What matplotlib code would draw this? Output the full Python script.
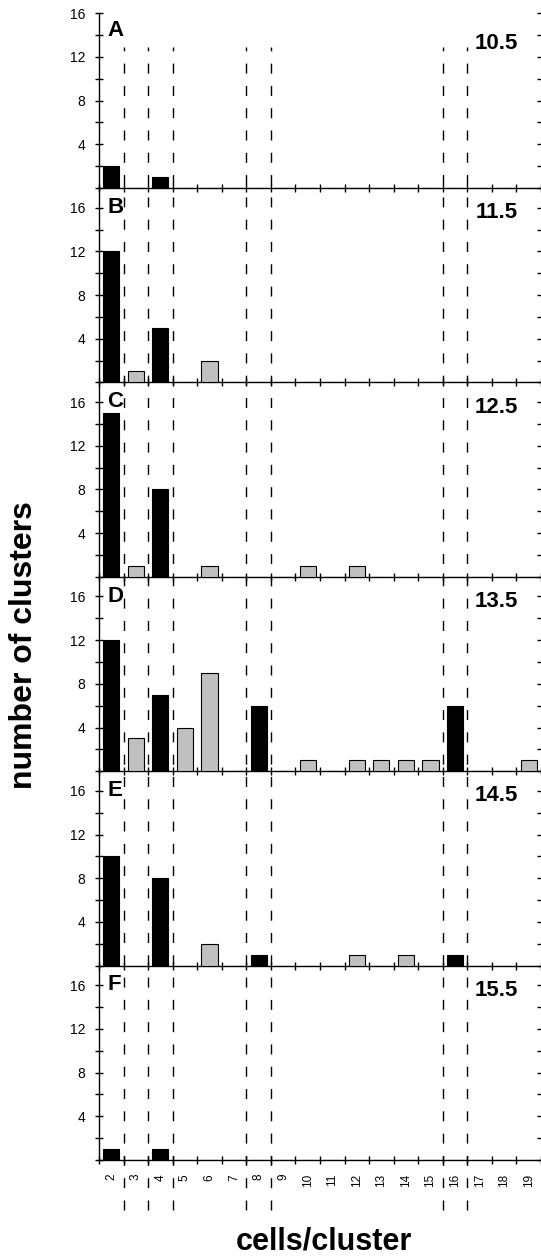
import matplotlib
matplotlib.use('Agg')
import matplotlib.pyplot as plt
import matplotlib.transforms as mtransforms
from matplotlib.lines import Line2D

plt.rcParams['font.family'] = ['Liberation Sans', 'DejaVu Sans']

# cells per cluster (x categories)
cells = [2, 3, 4, 5, 6, 7, 8, 9, 10, 11, 12, 13, 14, 15, 16, 17, 18, 19]

# number of clusters per panel, one value per category above
panel_letters = ['A', 'B', 'C', 'D', 'E', 'F']
stages = ['10.5', '11.5', '12.5', '13.5', '14.5', '15.5']
counts_A = [2, 0, 1, 0, 0, 0, 0, 0, 0, 0, 0, 0, 0, 0, 0, 0, 0, 0]
counts_B = [12, 1, 5, 0, 2, 0, 0, 0, 0, 0, 0, 0, 0, 0, 0, 0, 0, 0]
counts_C = [15, 1, 8, 0, 1, 0, 0, 0, 1, 0, 1, 0, 0, 0, 0, 0, 0, 0]
counts_D = [12, 3, 7, 4, 9, 0, 6, 0, 1, 0, 1, 1, 1, 1, 6, 0, 0, 1]
counts_E = [10, 0, 8, 0, 2, 0, 1, 0, 0, 0, 1, 0, 1, 0, 1, 0, 0, 0]
counts_F = [1, 0, 1, 0, 0, 0, 0, 0, 0, 0, 0, 0, 0, 0, 0, 0, 0, 0]
all_counts = [counts_A, counts_B, counts_C, counts_D, counts_E, counts_F]

# dashed separators sit between these neighbouring sizes
dashed_between = [(2, 3), (3, 4), (4, 5), (7, 8), (8, 9), (15, 16), (16, 17)]

W, H = 541, 1258
fig = plt.figure(figsize=(W / 100, H / 100), dpi=100)

left_px = 99
first_axis_px = 188
pitch = 194.4
ymax = 17.8

xs = list(range(len(cells)))
axes = []
for i, counts in enumerate(all_counts):
    base = first_axis_px + i * pitch
    ax = fig.add_axes([left_px / W, 1 - base / H, 1 - left_px / W, pitch / H])
    axes.append(ax)
    colors = ['black' if (n & (n - 1)) == 0 else '#c0c0c0' for n in cells]
    ax.bar(xs, counts, width=0.66, color=colors, edgecolor='black',
           linewidth=0.8, zorder=3)
    ax.set_xlim(-0.5, len(cells) - 0.5)
    ax.set_ylim(0, ymax)
    ax.patch.set_alpha(0)

    ax.spines['top'].set_visible(False)
    ax.spines['right'].set_visible(False)
    for s in ('left', 'bottom'):
        ax.spines[s].set_linewidth(1.0)
    if i == 0:
        ax.spines['left'].set_bounds(0, 16)

    ax.set_yticks(range(0, 17, 2))
    ax.set_yticklabels(['' if v % 4 or v == 0 else str(v) for v in range(0, 17, 2)])
    ax.tick_params(axis='y', direction='inout', length=6, width=1.0,
                   labelsize=10, pad=7, right=True)

    ax.set_xticks([k - 0.5 for k in range(len(cells) + 1)])
    ax.set_xticklabels([])
    ax.tick_params(axis='x', which='major', direction='inout', length=6,
                   width=1.0)
    ax.set_xticks(xs, minor=True)
    if i == len(all_counts) - 1:
        ax.set_xticklabels([str(c) for c in cells], minor=True,
                           rotation=90, fontsize=8.5)
        ax.tick_params(axis='x', which='minor', length=0, pad=10)
    else:
        ax.tick_params(axis='x', which='minor', length=0, labelbottom=False)

    ly = 15.4 if i == 0 else 17.0
    sy = 14.2 if i == 0 else 16.5
    ax.text(-0.17, ly, panel_letters[i], fontsize=16, fontweight='bold',
            ha='left', va='top')
    ax.text(16.57, sy, stages[i], fontsize=16, fontweight='bold',
            ha='right', va='top')

# long dashed lines running through all panels (drawn bottom-up)
trans = mtransforms.blended_transform_factory(axes[0].transData, fig.transFigure)
for a, b in dashed_between:
    xpos = cells.index(a) + 0.5
    fig.add_artist(Line2D([xpos, xpos], [1 - 1210 / H, 1 - 47 / H],
                          transform=trans, color='black', linewidth=1.0,
                          dashes=(7.2, 8.85), zorder=2))

fig.text(24 / W, 1 - 645 / H, 'number of clusters', rotation=90,
         fontsize=23, fontweight='bold', ha='center', va='center')
fig.text(324 / W, 1 - 1250 / H, 'cells/cluster', fontsize=22,
         fontweight='bold', ha='center', va='baseline')

fig.savefig('out.png', dpi=100)
